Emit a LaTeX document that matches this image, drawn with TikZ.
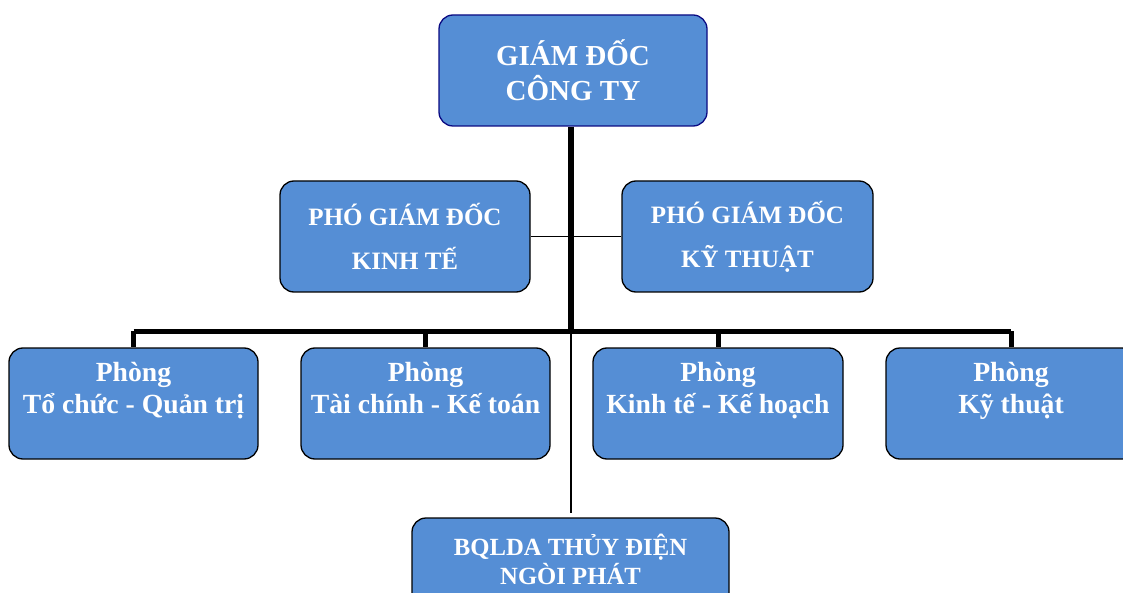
\documentclass[tikz,border=0pt]{standalone}
\usepackage{fontspec}
\setmainfont{Liberation Serif}
\usepackage{tikz}
\usetikzlibrary{positioning,calc}

\definecolor{boxblue}{RGB}{85,142,213}
\definecolor{navy}{RGB}{10,10,130}

\tikzset{
  orgbox/.style={draw=black, line width=1.3pt, fill=boxblue, rounded corners=14pt,
    minimum height=111pt, inner sep=0pt, text=white, align=center},
  thickline/.style={line width=5pt},
  thinline/.style={line width=1.3pt}
}

\begin{document}
\begin{tikzpicture}[x=1pt,y=-1pt]
    \useasboundingbox (0,0) rectangle (1123,593);
    \clip (0,0) rectangle (1123,593);
    % top
    \node[orgbox, draw=navy, minimum width=268pt, font=\bfseries\fontsize{29}{35}\selectfont]
        (gd) at (573,70.5) {GIÁM ĐỐC\\CÔNG TY};
    % deputies
    \node[orgbox, minimum width=250pt, font=\bfseries\fontsize{25}{44}\selectfont]
        (pgdkte) at (405,236.5) {PHÓ GIÁM ĐỐC\\KINH TẾ};
    \node[orgbox, minimum width=251pt, font=\bfseries\fontsize{25}{44}\selectfont]
        (pgdkth) at (747.5,236.5) {PHÓ GIÁM ĐỐC\\KỸ THUẬT};
    % departments
    \node[orgbox, minimum width=249pt, font=\bfseries\fontsize{27.7}{32}\selectfont]
        (ptc) at (133.5,403.5) {Phòng\\Tổ chức - Quản trị\\~};
    \node[orgbox, minimum width=249pt, font=\bfseries\fontsize{27.7}{32}\selectfont]
        (ptck) at (425.5,403.5) {Phòng\\Tài chính - Kế toán\\~};
    \node[orgbox, minimum width=250pt, font=\bfseries\fontsize{27.7}{32}\selectfont]
        (pkt) at (718,403.5) {Phòng\\Kinh tế - Kế hoạch\\~};
    \node[orgbox, minimum width=250pt, font=\bfseries\fontsize{27.7}{32}\selectfont]
        (pkth) at (1011,403.5) {Phòng\\Kỹ thuật\\~};
    % project board
    \node[orgbox, minimum width=317pt, font=\bfseries\fontsize{24.7}{29}\selectfont]
        (bql) at (570.5,573.5) {BQLDA THỦY ĐIỆN\\NGÒI PHÁT\\~};

    \coordinate (bar) at (571,331);
    \draw[thinline] (pgdkte.east) -- (pgdkth.west);
    \draw[line width=6pt] (gd.south -| bar) -- (bar);
    \draw[thickline] (ptc.north |- bar) -- (pkth.north |- bar);
    \foreach \b in {ptc,ptck,pkt,pkth}
        \draw[thickline] (\b.north |- bar) -- (\b.north);
    \draw[thinline] (bar) -- ($(bar |- bql.north)+(0,-4)$);
\end{tikzpicture}
\end{document}
